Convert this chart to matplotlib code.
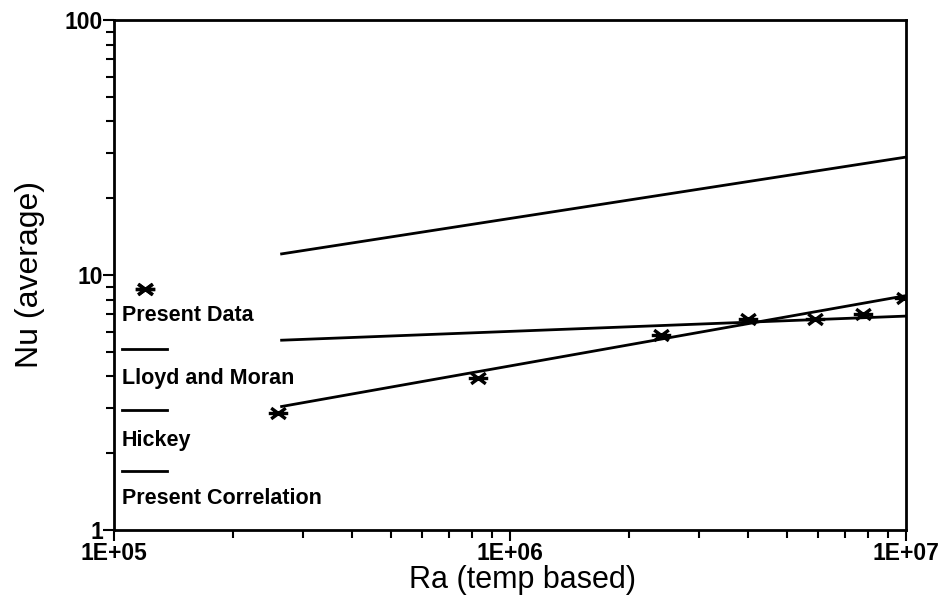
import numpy as np
import matplotlib
matplotlib.use("Agg")
import matplotlib.pyplot as plt
from matplotlib.path import Path
from matplotlib.ticker import FixedLocator, LogLocator, NullFormatter, FixedFormatter

plt.rcParams['font.family'] = ['Liberation Sans', 'DejaVu Sans']

# Measured Nusselt numbers
ra_data = [1.2e5, 2.6e5, 8.3e5, 2.4e6, 4.0e6, 5.9e6, 7.8e6, 9.9e6]
nu_data = [8.8, 2.88, 3.95, 5.8, 6.7, 6.7, 7.0, 8.1]

# Correlation lines (end points)
ra_lines = [2.65e5, 1.0e7]
nu_lloyd = [12.1, 29.0]
nu_hickey = [5.55, 6.9]
nu_present = [3.05, 8.3]

legend_labels = ["Present Data", "Lloyd and Moran", "Hickey", "Present Correlation"]

# flat asterisk: one horizontal bar and two shallow diagonals
star = Path([(-1, 0), (1, 0), (-0.75, -0.55), (0.75, 0.55), (-0.75, 0.55), (0.75, -0.55)],
            [Path.MOVETO, Path.LINETO, Path.MOVETO, Path.LINETO, Path.MOVETO, Path.LINETO])
mstyle = dict(linestyle='none', marker=star, markersize=14, markeredgewidth=2.4,
              color='black')

fig = plt.figure(figsize=(9.44, 6.04), dpi=100)
ax = fig.add_axes([114 / 944, 74 / 604, 792 / 944, 510 / 604])

lw = 2.0
ax.plot(ra_data, nu_data, **mstyle)
ax.plot(ra_lines, nu_lloyd, color='black', lw=lw)
ax.plot(ra_lines, nu_hickey, color='black', lw=lw)
ax.plot(ra_lines, nu_present, color='black', lw=lw)

ax.set_xscale('log')
ax.set_yscale('log')
ax.set_xlim(1e5, 1e7)
ax.set_ylim(1, 100)

# ticks: only left and bottom, pointing out
ax.tick_params(which='both', direction='out', top=False, right=False, width=1.5)
ax.tick_params(which='major', length=8)
ax.tick_params(which='minor', length=6)
ax.xaxis.set_major_locator(FixedLocator([1e5, 1e6, 1e7]))
ax.xaxis.set_major_formatter(FixedFormatter(["1E+05", "1E+06", "1E+07"]))
ax.xaxis.set_minor_locator(LogLocator(base=10, subs=np.arange(2, 10)))
ax.xaxis.set_minor_formatter(NullFormatter())
ax.yaxis.set_major_locator(FixedLocator([1, 10, 100]))
ax.yaxis.set_major_formatter(FixedFormatter(["1", "10", "100"]))
ax.yaxis.set_minor_locator(LogLocator(base=10, subs=np.arange(2, 10)))
ax.yaxis.set_minor_formatter(NullFormatter())

for lab in ax.get_xticklabels() + ax.get_yticklabels():
    lab.set_fontweight('bold')
    lab.set_fontsize(16.5)
ax.tick_params(axis='x', pad=1)
ax.tick_params(axis='y', pad=0)

for sp in ax.spines.values():
    sp.set_linewidth(2)

ax.set_xlabel("Ra (temp based)", fontsize=22)
ax.xaxis.set_label_coords(0.516, -0.068)
ax.set_ylabel("Nu (average)", fontsize=23, labelpad=14)

# stacked legend: sample above each label
ax.plot([0.039], [0.4725], transform=ax.transAxes, **mstyle)
text_y = [0.420, 0.298, 0.176, 0.061]
line_y = [0.355, 0.235, 0.116]
for ty, lab in zip(text_y, legend_labels):
    ax.text(0.010, ty, lab, transform=ax.transAxes, fontsize=15.5,
            fontweight='bold', va='center', ha='left')
for ly in line_y:
    ax.plot([0.010, 0.067], [ly, ly], transform=ax.transAxes, color='black', lw=lw)

fig.savefig("out.png", dpi=100)
